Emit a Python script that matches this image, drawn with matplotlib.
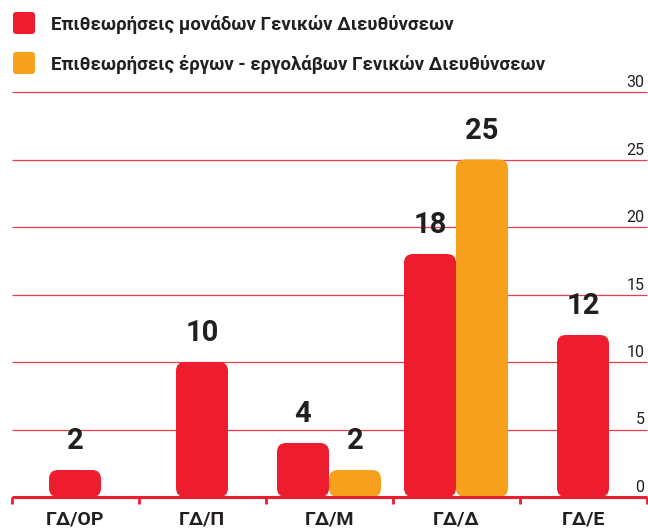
import matplotlib.pyplot as plt
from matplotlib.patches import FancyBboxPatch

plt.rcParams["font.family"] = ["Roboto", "DejaVu Sans"]

categories = ["ΓΔ/ΟΡ", "ΓΔ/Π", "ΓΔ/Μ", "ΓΔ/Δ", "ΓΔ/Ε"]
units = [2, 10, 4, 18, 12]          # Επιθεωρήσεις μονάδων
works = [None, None, 2, 25, None]   # Επιθεωρήσεις έργων-εργολάβων
series_names = ["Επιθεωρήσεις μονάδων Γενικών Διευθύνσεων",
                "Επιθεωρήσεις έργων - εργολάβων Γενικών Διευθύνσεων"]
yticks = [0, 5, 10, 15, 20, 25, 30]

RED = "#ed1c2e"
ORANGE = "#f7a01e"
DARK = "#231f20"
GRID = "#e4404c"

W, H = 648, 529
fig = plt.figure(figsize=(W / 100, H / 100), dpi=100)
ax = fig.add_axes([0, 0, 1, 1])
ax.set_axis_off()

# pixel mapping: category spacing ~127 px, y 13.5 px per unit
xpx, ypx = 127.0, 13.5
x0px, y0px = 75.0, 497.0
ax.set_xlim(-x0px / xpx, (W - x0px) / xpx)
ax.set_ylim(-(H - y0px) / ypx, y0px / ypx)

bw = 52 / xpx
r = 9 / xpx
aspect = xpx / ypx


def rbar(xc, h, color):
    p = FancyBboxPatch((xc - bw / 2, 0), bw, h,
                       boxstyle=f"round,pad=0,rounding_size={r}",
                       mutation_aspect=aspect, fc=color, ec="none", zorder=3)
    ax.add_patch(p)
    ax.text(xc, h + 15 / ypx, str(h), ha="center", va="bottom",
            fontsize=21, fontweight="bold", color=DARK, zorder=4)


for i, (u, w) in enumerate(zip(units, works)):
    if w is None:
        rbar(i, u, RED)
    else:
        rbar(i - bw / 2, u, RED)
        rbar(i + bw / 2, w, ORANGE)

xl, xr = -0.5, 4.5
for t in yticks[1:]:
    ax.hlines(t, xl, xr, color=GRID, lw=0.9, zorder=1)
for t in yticks:
    ax.text(xr - 2 / xpx, t + 2 / ypx, str(t), ha="right", va="bottom",
            fontsize=11.5, color=DARK)

# baseline with category separators
ax.hlines(0, xl, xr, color=RED, lw=2.2, zorder=5)
for b in range(len(categories) + 1):
    ax.vlines(b - 0.5, -7 / ypx, 0, color=RED, lw=2, zorder=5)

for i, c in enumerate(categories):
    ax.text(i, -14 / ypx, c, ha="center", va="top", fontsize=14,
            fontweight="bold", color=DARK)

# legend, placed in figure pixels
for k, (name, col) in enumerate(zip(series_names, [RED, ORANGE])):
    yc = 23 + 40 * k
    sq = FancyBboxPatch(((13) / W, 1 - (yc + 11) / H), 22 / W, 22 / H,
                        boxstyle=f"round,pad=0,rounding_size={3 / W}",
                        mutation_aspect=W / H, fc=col, ec="none",
                        transform=fig.transFigure)
    fig.add_artist(sq)
    fig.text(51 / W, 1 - yc / H, name, ha="left", va="center_baseline",
             fontsize=13.4, fontweight="bold", color=DARK)

fig.savefig("out.png", dpi=100)
